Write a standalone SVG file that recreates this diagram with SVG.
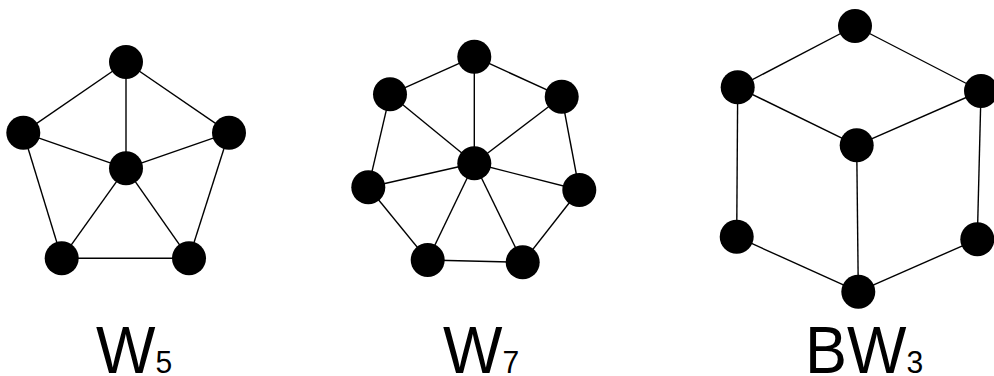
<svg xmlns="http://www.w3.org/2000/svg" width="994" height="376" viewBox="0 0 994 376">
<style>
.e{stroke:#000;stroke-width:1.4;fill:none}
.n{fill:#000}
.lbl{font-family:"Liberation Sans",Arial,sans-serif;font-size:67px;fill:#000}
.sub{font-size:32px}
</style>
<rect width="994" height="376" fill="#fff"/>
<g id="connectors" class="e">
<line x1="126" y1="62" x2="23.3" y2="132.7"/>
<line x1="126" y1="62" x2="229" y2="132.7"/>
<line x1="126" y1="62" x2="126" y2="168.3"/>
<line x1="23.3" y1="132.7" x2="126" y2="168.3"/>
<line x1="229" y1="132.7" x2="126" y2="168.3"/>
<line x1="23.3" y1="132.7" x2="61.7" y2="258.3"/>
<line x1="229" y1="132.7" x2="189" y2="258.3"/>
<line x1="61.7" y1="258.3" x2="189" y2="258.3"/>
<line x1="61.7" y1="258.3" x2="126" y2="168.3"/>
<line x1="189" y1="258.3" x2="126" y2="168.3"/>
<line x1="474.3" y1="56.7" x2="390" y2="94.3"/>
<line x1="474.3" y1="56.7" x2="561.7" y2="96.7"/>
<line x1="390" y1="94.3" x2="368.3" y2="187.3"/>
<line x1="561.7" y1="96.7" x2="579.3" y2="190"/>
<line x1="368.3" y1="187.3" x2="427.7" y2="260"/>
<line x1="579.3" y1="190" x2="522.7" y2="262.3"/>
<line x1="427.7" y1="260" x2="522.7" y2="262.3"/>
<line x1="474.3" y1="163.3" x2="474.3" y2="56.7"/>
<line x1="474.3" y1="163.3" x2="390" y2="94.3"/>
<line x1="474.3" y1="163.3" x2="561.7" y2="96.7"/>
<line x1="474.3" y1="163.3" x2="368.3" y2="187.3"/>
<line x1="474.3" y1="163.3" x2="579.3" y2="190"/>
<line x1="474.3" y1="163.3" x2="427.7" y2="260"/>
<line x1="474.3" y1="163.3" x2="522.7" y2="262.3"/>
<line x1="855" y1="26" x2="737.7" y2="87.3"/>
<line x1="855" y1="26" x2="981" y2="91"/>
<line x1="737.7" y1="87.3" x2="856.7" y2="145.3"/>
<line x1="981" y1="91" x2="856.7" y2="145.3"/>
<line x1="737.7" y1="87.3" x2="736.7" y2="236.7"/>
<line x1="856.7" y1="145.3" x2="858.3" y2="291.7"/>
<line x1="981" y1="91" x2="977.3" y2="239.3"/>
<line x1="736.7" y1="236.7" x2="858.3" y2="291.7"/>
<line x1="977.3" y1="239.3" x2="858.3" y2="291.7"/>
</g>
<g id="w5-top"><circle class="n" cx="126" cy="62" r="17"/></g>
<g id="w5-left"><circle class="n" cx="23.3" cy="132.7" r="17"/></g>
<g id="w5-right"><circle class="n" cx="229" cy="132.7" r="17"/></g>
<g id="w5-hub"><circle class="n" cx="126" cy="168.3" r="17"/></g>
<g id="w5-bl"><circle class="n" cx="61.7" cy="258.3" r="17"/></g>
<g id="w5-br"><circle class="n" cx="189" cy="258.3" r="17"/></g>

<g id="w7-top"><circle class="n" cx="474.3" cy="56.7" r="17"/></g>
<g id="w7-ul"><circle class="n" cx="390" cy="94.3" r="17"/></g>
<g id="w7-ur"><circle class="n" cx="561.7" cy="96.7" r="17"/></g>
<g id="w7-hub"><circle class="n" cx="474.3" cy="163.3" r="17"/></g>
<g id="w7-l"><circle class="n" cx="368.3" cy="187.3" r="17"/></g>
<g id="w7-r"><circle class="n" cx="579.3" cy="190" r="17"/></g>
<g id="w7-bl"><circle class="n" cx="427.7" cy="260" r="17"/></g>
<g id="w7-br"><circle class="n" cx="522.7" cy="262.3" r="17"/></g>

<g id="bw3-top"><circle class="n" cx="855" cy="26" r="17"/></g>
<g id="bw3-ul"><circle class="n" cx="737.7" cy="87.3" r="17"/></g>
<g id="bw3-ur"><circle class="n" cx="981" cy="91" r="17"/></g>
<g id="bw3-mid"><circle class="n" cx="856.7" cy="145.3" r="17"/></g>
<g id="bw3-ll"><circle class="n" cx="736.7" cy="236.7" r="17"/></g>
<g id="bw3-lr"><circle class="n" cx="977.3" cy="239.3" r="17"/></g>
<g id="bw3-bot"><circle class="n" cx="858.3" cy="291.7" r="17"/></g>

<g id="labels">
<text class="lbl" transform="translate(96 373) scale(0.94 1)">W<tspan class="sub">5</tspan></text>
<text class="lbl" transform="translate(443 373) scale(0.94 1)">W<tspan class="sub">7</tspan></text>
<text class="lbl" transform="translate(805 373) scale(0.94 1)">BW<tspan class="sub">3</tspan></text>
</g>
</svg>
